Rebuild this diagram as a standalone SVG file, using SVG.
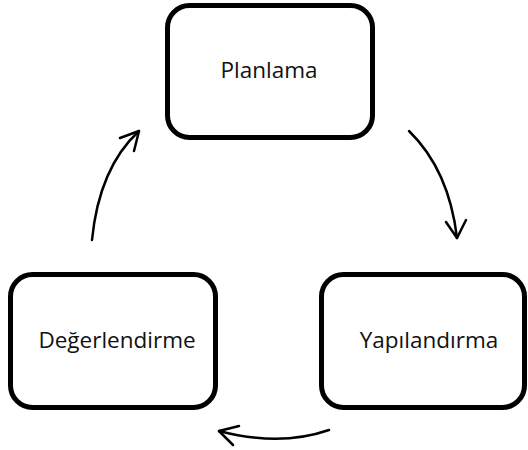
<svg xmlns="http://www.w3.org/2000/svg" width="528" height="450" viewBox="0 0 528 450">
<defs>
<style>
.box{fill:#fff;stroke:#000;stroke-width:5}
.lbl{font-family:"Open Sans","Noto Sans",sans-serif;font-size:22.5px;fill:#111;text-anchor:middle}
.arr{fill:none;stroke:#000;stroke-width:2.5;stroke-linecap:round;stroke-linejoin:round}
</style>
</defs>
<rect width="528" height="450" fill="#fff"/>
<g id="planlama">
<rect class="box" x="167.5" y="5.5" width="205" height="132" rx="22"/>
<text class="lbl" x="269" y="78">Planlama</text>
</g>
<g id="yapilandirma">
<rect class="box" x="321.5" y="274.5" width="203" height="133" rx="22"/>
<text class="lbl" x="429" y="348">Yapılandırma</text>
</g>
<g id="degerlendirme">
<rect class="box" x="10.5" y="274.5" width="205" height="133" rx="22"/>
<text class="lbl" x="117" y="348">Değerlendirme</text>
</g>
<g id="connectors">
<path class="arr" d="M92,240 Q99,168 139,131"/>
<path class="arr" d="M120,138 L139,131 L134,151"/>
<path class="arr" d="M409,131 Q449,170 457,238"/>
<path class="arr" d="M446,222 L457,238 L466,220"/>
<path class="arr" d="M329,430 Q280,447 219,431"/>
<path class="arr" d="M239,426 L219,431 L233,445"/>
</g>
</svg>
